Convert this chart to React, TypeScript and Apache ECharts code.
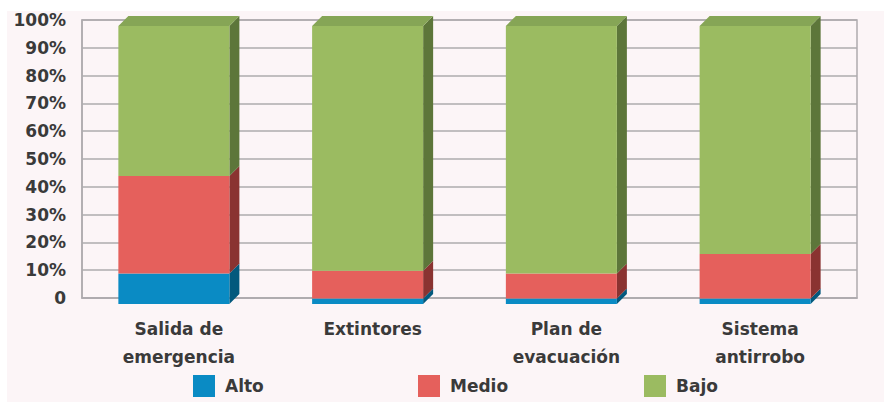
import React, { useEffect, useRef } from "react";
import * as echarts from "echarts";

const categories = ["Salida de\nemergencia", "Extintores", "Plan de\nevacuación", "Sistema\nantirrobo"];
const seriesNames = ["Alto", "Medio", "Bajo"];
const alto = [11, 2, 2, 2];
const medio = [35, 10, 9, 16];
const bajo = [54, 88, 89, 82];
const yTicks = [0, 10, 20, 30, 40, 50, 60, 70, 80, 90, 100];

const frontColors = ["#0a8bc4", "#e5605c", "#9bbb61"];
const sideColors = ["#03597d", "#8a3331", "#5d763a"];
const topColors = ["#0a7bb0", "#c9524f", "#86a556"];

export default function App() {
  const ref = useRef<HTMLDivElement>(null);
  useEffect(() => {
    if (!ref.current) return;
    const chart = echarts.init(ref.current, undefined, { renderer: "svg" });
    const values = [alto, medio, bajo];
    const DX = 10, DY = 10, OFFX = -5, OFFY = 6, RATIO = 0.573;

    const series = values.map((vals, si) => {
      const data = vals.map((v, ci) => {
        let start = 0;
        for (let k = 0; k < si; k++) start += values[k][ci];
        return [ci, start, start + v];
      });
      const isLast = si === values.length - 1;
      return {
        type: "custom",
        name: seriesNames[si],
        itemStyle: { color: frontColors[si] },
        encode: { x: 0, y: [1, 2] },
        z: 2 + si,
        data,
        renderItem: (params: any, api: any) => {
          const cat = api.value(0);
          const s = api.value(1);
          const e = api.value(2);
          const p0 = api.coord([cat, s]);
          const p1 = api.coord([cat, e]);
          const band = api.size([1, 0])[0];
          const w = band * RATIO;
          const fx = p0[0] - w / 2 + OFFX;
          const fy0 = p0[1] + OFFY;
          const fy1 = p1[1] + OFFY;
          const children: any[] = [
            {
              type: "polygon",
              shape: { points: [[fx + w, fy1], [fx + w + DX, fy1 - DY], [fx + w + DX, fy0 - DY], [fx + w, fy0]] },
              style: { fill: sideColors[si] },
            },
            {
              type: "rect",
              shape: { x: fx, y: fy1, width: w, height: fy0 - fy1 },
              style: { fill: frontColors[si] },
            },
          ];
          if (isLast) {
            children.push({
              type: "polygon",
              shape: { points: [[fx, fy1], [fx + DX, fy1 - DY], [fx + w + DX, fy1 - DY], [fx + w, fy1]] },
              style: { fill: topColors[si] },
            });
          }
          return { type: "group", children };
        },
      };
    });

    const legendLefts = [193, 418, 644];
    const legend = seriesNames.map((n, i) => ({
      data: [n],
      left: legendLefts[i],
      top: 375,
      padding: 0,
      icon: "rect",
      itemWidth: 22,
      itemHeight: 22,
      textStyle: {
        fontFamily: "DejaVu Sans",
        fontWeight: "bold",
        fontSize: 17,
        color: "#3a3a3a",
        padding: [0, 0, 0, 5],
      },
    }));

    chart.setOption({
      animation: false,
      graphic: [
        {
          type: "rect",
          left: 7,
          top: 11,
          z: -100,
          silent: true,
          shape: { width: 877, height: 391 },
          style: { fill: "#fcf5f7" },
        },
      ],
      grid: {
        left: 82,
        right: 27,
        top: 20,
        bottom: 104,
        show: true,
        borderColor: "#aeabae",
        borderWidth: 1.5,
        backgroundColor: "transparent",
      },
      legend,
      xAxis: {
        type: "category",
        data: categories,
        axisTick: { show: false },
        axisLine: { show: true, lineStyle: { color: "#aeabae", width: 1.5 } },
        axisLabel: {
          margin: 17,
          fontFamily: "DejaVu Sans",
          fontWeight: "bold",
          fontSize: 17,
          lineHeight: 28,
          color: "#3a3a3a",
        },
      },
      yAxis: {
        type: "value",
        min: yTicks[0],
        max: yTicks[yTicks.length - 1],
        interval: 10,
        axisLine: { show: true, lineStyle: { color: "#aeabae", width: 1.5 } },
        axisTick: { show: false },
        splitLine: { lineStyle: { color: "#aeabae", width: 1.5 } },
        axisLabel: {
          margin: 16,
          fontFamily: "DejaVu Sans",
          fontWeight: "bold",
          fontSize: 17,
          color: "#3a3a3a",
          formatter: (v: number) => (v === 0 ? "0" : v + "%"),
        },
      },
      series,
    });
    return () => chart.dispose();
  }, []);
  return (
    <div
      ref={ref}
      style={{ position: "absolute", left: 0, top: 0, width: 884, height: 402, background: "#ffffff" }}
    />
  );
}
